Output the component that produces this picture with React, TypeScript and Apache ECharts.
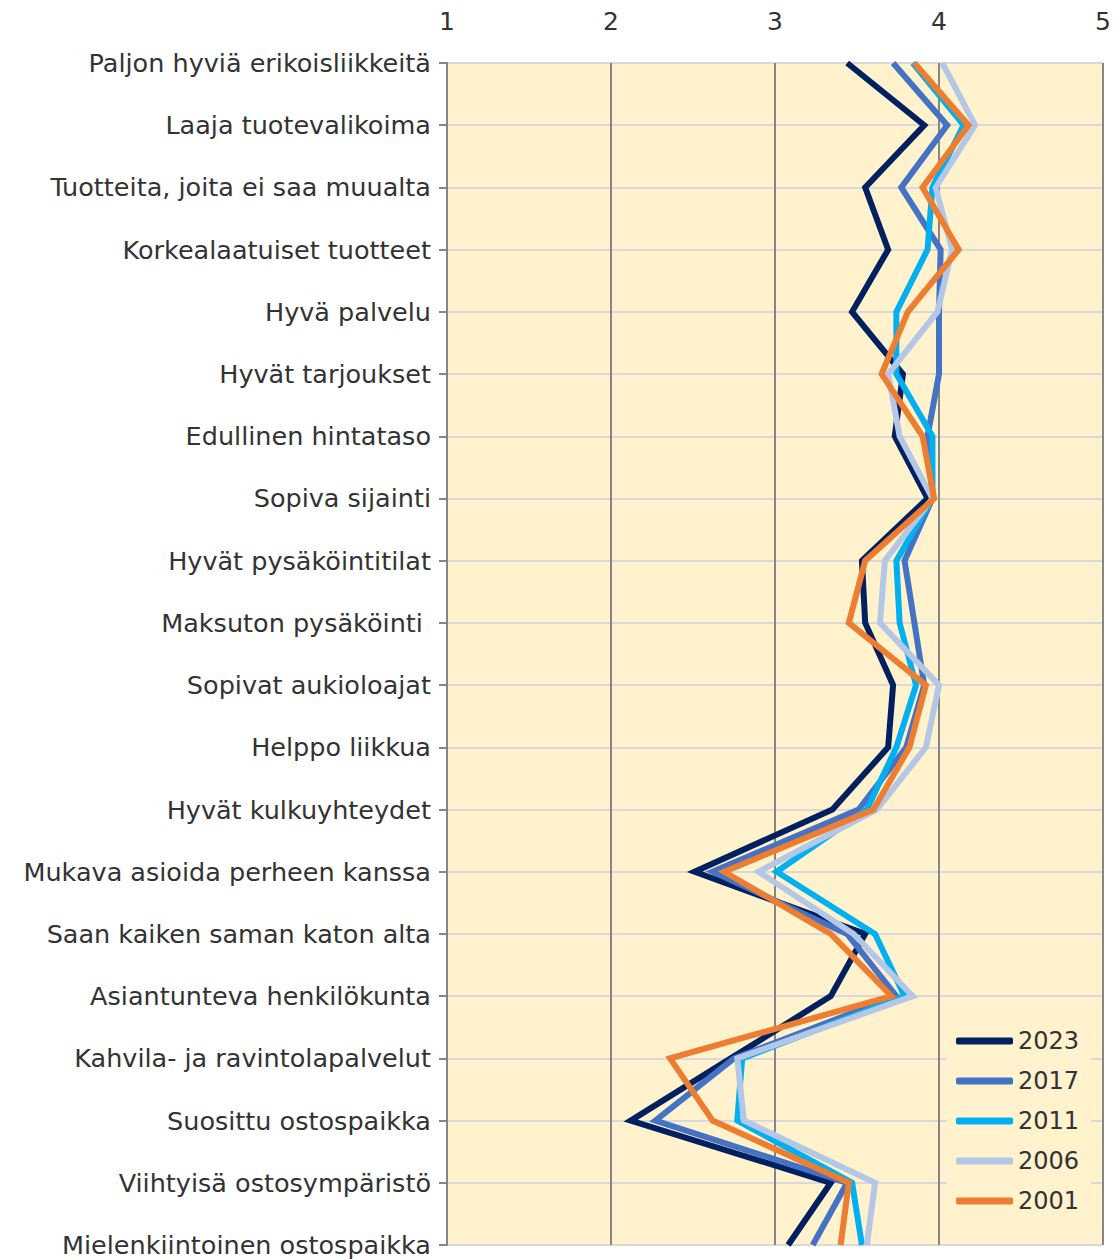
import React, { useEffect, useRef } from "react";
import * as echarts from "echarts";

const categories = [
  "Paljon hyviä erikoisliikkeitä",
  "Laaja tuotevalikoima",
  "Tuotteita, joita ei saa muualta",
  "Korkealaatuiset tuotteet",
  "Hyvä palvelu",
  "Hyvät tarjoukset",
  "Edullinen hintataso",
  "Sopiva sijainti",
  "Hyvät pysäköintitilat",
  "Maksuton pysäköinti ",
  "Sopivat aukioloajat",
  "Helppo liikkua",
  "Hyvät kulkuyhteydet",
  "Mukava asioida perheen kanssa",
  "Saan kaiken saman katon alta",
  "Asiantunteva henkilökunta",
  "Kahvila- ja ravintolapalvelut",
  "Suosittu ostospaikka",
  "Viihtyisä ostosympäristö",
  "Mielenkiintoinen ostospaikka",
];

const xTicks = [1, 2, 3, 4, 5];

const years = ["2023", "2017", "2011", "2006", "2001"];
const colors = ["#002060", "#4472C4", "#00B0F0", "#B4C7E7", "#ED7D31"];

const v2023 = [3.44, 3.91, 3.55, 3.69, 3.47, 3.78, 3.73, 3.93, 3.53, 3.55, 3.72, 3.69, 3.35, 2.51, 3.55, 3.34, 2.73, 2.12, 3.34, 3.08];
const v2017 = [3.72, 4.05, 3.77, 4.01, 4.0, 4.0, 3.93, 3.96, 3.79, 3.85, 3.91, 3.8, 3.51, 2.62, 3.44, 3.74, 2.75, 2.27, 3.44, 3.23];
const v2011 = [3.84, 4.15, 3.96, 3.93, 3.74, 3.74, 3.96, 3.96, 3.74, 3.76, 3.86, 3.74, 3.56, 3.01, 3.61, 3.79, 2.8, 2.77, 3.47, 3.53];
const v2006 = [4.02, 4.22, 3.98, 4.08, 3.99, 3.69, 3.76, 3.96, 3.67, 3.64, 4.0, 3.92, 3.62, 2.9, 3.48, 3.84, 2.77, 2.81, 3.61, 3.56];
const v2001 = [3.85, 4.18, 3.9, 4.12, 3.81, 3.65, 3.9, 3.97, 3.55, 3.45, 3.92, 3.82, 3.6, 2.69, 3.34, 3.71, 2.36, 2.62, 3.45, 3.4];

const seriesValues = [v2023, v2017, v2011, v2006, v2001];

const FONT = "DejaVu Sans";

export default function App() {
  const ref = useRef<HTMLDivElement>(null);

  useEffect(() => {
    const chart = echarts.init(ref.current as HTMLDivElement, null, { renderer: "svg" });
    chart.setOption({
      animation: false,
      backgroundColor: "#ffffff",
      textStyle: { fontFamily: FONT },
      grid: {
        left: 447,
        right: 12,
        top: 63,
        bottom: 14,
        containLabel: false,
        show: true,
        backgroundColor: "#FFF2CC",
        borderWidth: 0,
      },
      xAxis: {
        type: "value",
        position: "top",
        min: xTicks[0],
        max: xTicks[xTicks.length - 1],
        interval: 1,
        axisLine: { show: false },
        axisTick: { show: false },
        axisLabel: {
          fontSize: 25,
          color: "#333333",
          fontFamily: FONT,
          margin: 29,
        },
        splitLine: { show: true, lineStyle: { color: "#868686", width: 2 } },
      },
      yAxis: {
        type: "category",
        data: categories,
        inverse: true,
        boundaryGap: false,
        axisLine: { show: true, onZero: false, lineStyle: { color: "#868686", width: 2 } },
        axisTick: { show: true, length: 8, lineStyle: { color: "#868686", width: 2 } },
        axisLabel: {
          fontSize: 25.5,
          color: "#333333",
          fontFamily: FONT,
          margin: 16,
          interval: 0,
        },
        splitLine: { show: true, lineStyle: { color: "#D9D9D9", width: 2 } },
      },
      legend: {
        orient: "vertical",
        left: 947,
        top: 1016,
        backgroundColor: "#FFF2CC",
        padding: [10, 12, 10, 9],
        icon: "roundRect",
        itemWidth: 57,
        itemHeight: 7,
        itemGap: 10,
        itemTextGap: 3,
        textStyle: { fontSize: 24, color: "#333333", fontFamily: FONT, lineHeight: 30 },
        data: years,
      },
      series: years.map((y, i) => ({
        name: y,
        type: "line",
        data: seriesValues[i],
        symbol: "none",
        color: colors[i],
        lineStyle: { width: 6, color: colors[i], join: "miter", cap: "butt" },
        itemStyle: { color: colors[i] },
        z: 2 + i,
      })),
    });
    return () => chart.dispose();
  }, []);

  return (
    <div
      ref={ref}
      style={{ position: "absolute", left: 0, top: 0, width: 1115, height: 1259 }}
    />
  );
}
